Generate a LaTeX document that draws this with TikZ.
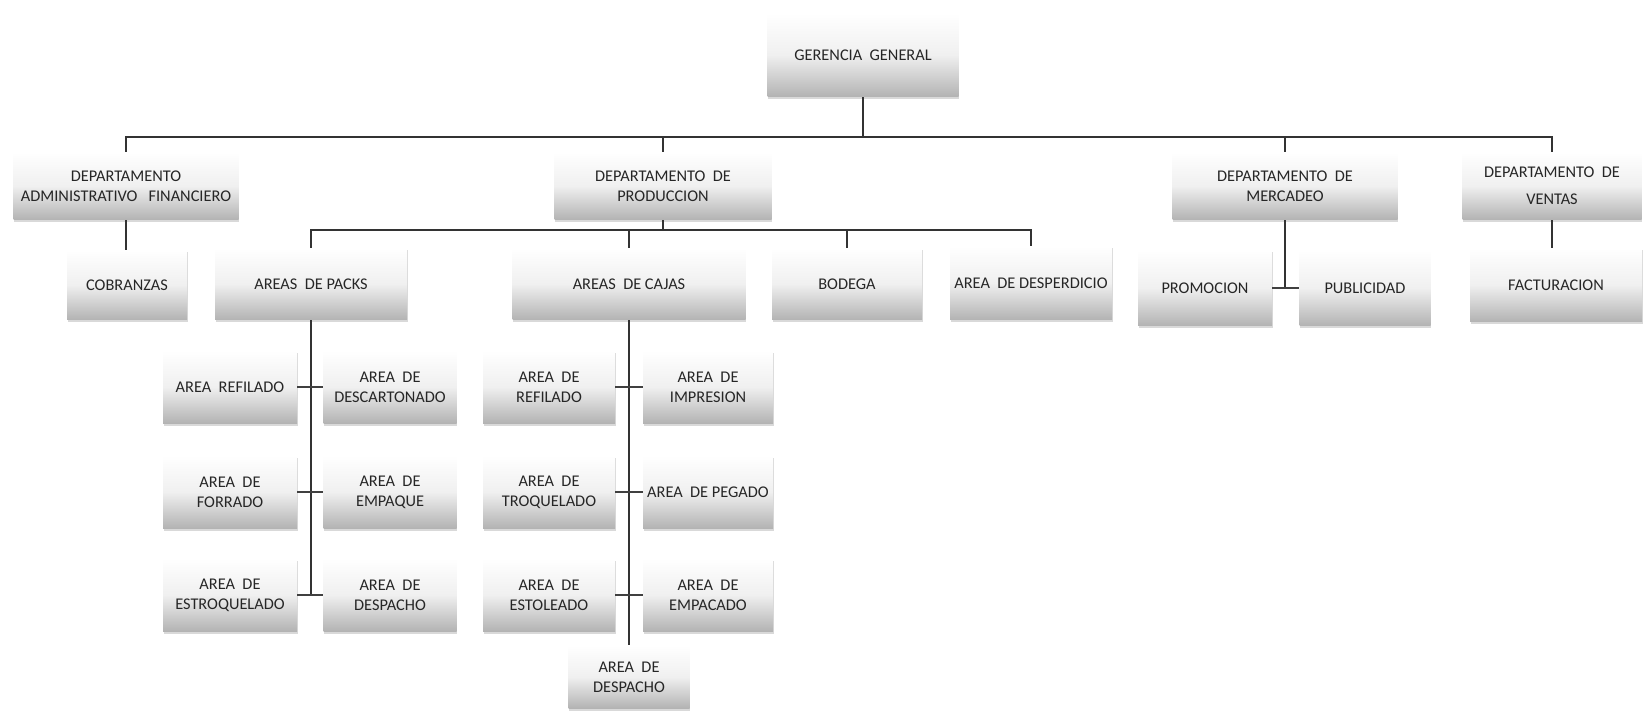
\documentclass[tikz,border=0pt]{standalone}
\usepackage{fontspec}
\setmainfont{Carlito}
\usetikzlibrary{shadows}
\begin{document}
\begin{tikzpicture}[x=0.02cm,y=-0.02cm,
	caja/.style 2 args={minimum width=#1*0.02cm, minimum height=#2*0.02cm, inner sep=1pt, align=center,
		top color=white, bottom color=black!30, middle color=black!6,
		drop shadow={shadow xshift=0.5pt, shadow yshift=-1.3pt, opacity=0.3},
		font=\fontsize{9.3}{11.5}\selectfont, text=black!85},
	linea/.style={line width=1.4pt, black!80},
	rama/.style={line width=1pt, black!75}]
		\useasboundingbox (0,0) rectangle (1651,712);
		\coordinate (bus1) at (0,137);
		\coordinate (bus2) at (0,230);
		% gerencia y departamentos
		\node[caja={191}{84}] (ger) at (863,55) {GERENCIA~~GENERAL};
		\node[caja={225}{68}] (adm) at (126,186) {DEPARTAMENTO\\ADMINISTRATIVO~~~FINANCIERO};
		\node[caja={217}{68}] (prod) at (663,186) {DEPARTAMENTO~~DE\\PRODUCCION};
		\node[caja={225}{68}] (merc) at (1285,186) {DEPARTAMENTO~~DE\\MERCADEO};
		\node[caja={179}{68}] (vent) at (1552,186) {DEPARTAMENTO~~DE\\[4pt]VENTAS};
		% segundo nivel
		\node[caja={120}{70}] (cob) at (127,285) {COBRANZAS};
		\node[caja={192}{72}] (packs) at (311,284) {AREAS~~DE PACKS};
		\node[caja={233}{72}] (cajas) at (629,284) {AREAS~~DE CAJAS};
		\node[caja={150}{72}] (bod) at (847,284) {BODEGA};
		\node[caja={162}{74}] (desp) at (1031,283) {AREA~~DE DESPERDICIO};
		\node[caja={134}{76}] (prom) at (1205,288) {PROMOCION};
		\node[caja={131}{76}] (publ) at (1365,288) {PUBLICIDAD};
		\node[caja={172}{74}] (fact) at (1556,285) {FACTURACION};
		% areas de packs
		\node[caja={134}{73}] (pref) at (230,387) {AREA~~REFILADO};
		\node[caja={133}{73}] (pdes) at (390,387) {AREA~~DE\\DESCARTONADO};
		\node[caja={134}{73}] (pfor) at (230,492) {AREA~~DE\\FORRADO};
		\node[caja={133}{73}] (pemp) at (390,492) {AREA~~DE\\EMPAQUE};
		\node[caja={134}{73}] (pest) at (230,595) {AREA~~DE\\ESTROQUELADO};
		\node[caja={133}{73}] (pdsp) at (390,595) {AREA~~DE\\DESPACHO};
		% areas de cajas
		\node[caja={132}{73}] (cref) at (549,387) {AREA~~DE\\REFILADO};
		\node[caja={130}{73}] (cimp) at (708,387) {AREA~~DE\\IMPRESION};
		\node[caja={132}{73}] (ctro) at (549,492) {AREA~~DE\\TROQUELADO};
		\node[caja={130}{73}] (cpeg) at (708,492) {AREA~~DE PEGADO};
		\node[caja={132}{73}] (cest) at (549,595) {AREA~~DE\\ESTOLEADO};
		\node[caja={130}{73}] (cemp) at (708,595) {AREA~~DE\\EMPACADO};
		\node[caja={121}{63}] (cdsp) at (629,677) {AREA~~DE\\DESPACHO};
		% conectores
		\draw[linea] (ger.south) -- (ger.south |- bus1);
		\draw[linea] (adm.north) -- (adm.north |- bus1) -- (vent.north |- bus1) -- (vent.north);
		\draw[linea] (prod.north) -- (prod.north |- bus1);
		\draw[linea] (merc.north) -- (merc.north |- bus1);
		\draw[linea] (adm.south) -- (adm.south |- cob.north);
		\draw[linea] (prod.south) -- (prod.south |- bus2);
		\draw[linea] (packs.north) -- (packs.north |- bus2) -- (desp.north |- bus2) -- (desp.north);
		\draw[linea] (cajas.north) -- (cajas.north |- bus2);
		\draw[linea] (bod.north) -- (bod.north |- bus2);
		\draw[linea] (merc.south) -- (merc.south |- prom.east);
		\draw[rama] (prom.east) -- (publ.west);
		\draw[linea] (vent.south) -- (vent.south |- fact.north);
		\draw[linea] (packs.south) -- (packs.south |- pest.east);
		\draw[rama] (pref.east) -- (pdes.west);
		\draw[rama] (pfor.east) -- (pemp.west);
		\draw[rama] (pest.east) -- (pdsp.west);
		\draw[linea] (cajas.south) -- (cdsp.north);
		\draw[rama] (cref.east) -- (cimp.west);
		\draw[rama] (ctro.east) -- (cpeg.west);
		\draw[rama] (cest.east) -- (cemp.west);
\end{tikzpicture}
\end{document}
